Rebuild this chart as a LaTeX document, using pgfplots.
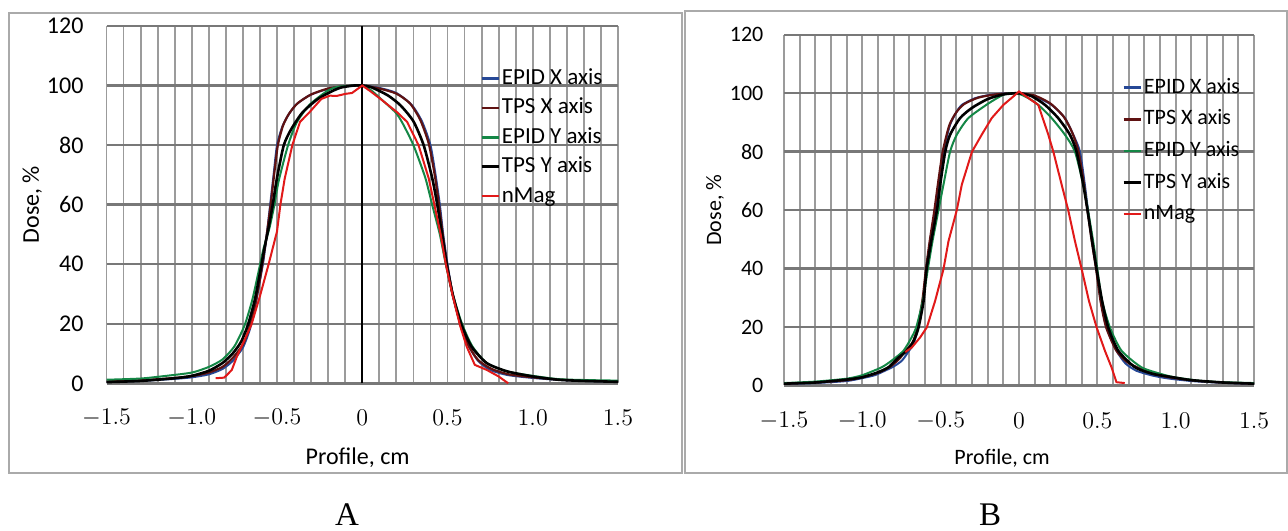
\documentclass[border=0pt]{standalone}
\usepackage{pgfplots}
\pgfplotsset{compat=1.18}
\usepackage{fontspec}
\setmainfont{Carlito}
\newfontfamily\letterfont{Liberation Serif}
\definecolor{epidx}{RGB}{38,72,150}
\definecolor{tpsx}{RGB}{95,18,18}
\definecolor{epidy}{RGB}{20,135,70}
\definecolor{nmag}{RGB}{225,25,25}
\definecolor{hgrid}{RGB}{120,120,120}
\definecolor{vgrid}{RGB}{155,155,155}
\definecolor{frame}{RGB}{170,170,170}

\pgfplotsset{
  panel/.style={
    scale only axis,
    anchor=south west,
    xmin=-1.5, xmax=1.5, ymin=0, ymax=120,
    xtick={-1.5,-1,-0.5,0,0.5,1,1.5},
    xticklabels={$-1.5$,$-1.0$,$-0.5$,$0$,$0.5$,$1.0$,$1.5$},
    minor xtick={-1.5,-1.4,...,1.55},
    ytick={0,20,40,60,80,100,120},
    yticklabels={0,20,40,60,80,100,120},
    xmajorgrids=false, xminorgrids=true, ymajorgrids=true,
    major grid style={hgrid, line width=1.2pt},
    minor grid style={vgrid, line width=0.9pt},
    axis line style={draw=none},
    tick style={draw=none}, minor tick style={draw=none},
    major tick length=0pt, minor tick length=0pt,
    legend cell align=left,
    legend image code/.code={\draw[#1, line width=1.3pt] (0pt,0pt) -- (8.5pt,0pt);},
    xlabel={Profile, cm},
    ylabel={Dose, \%},
  },
  cA/.style={epidx, line width=1pt, smooth, tension=0.4},
  cB/.style={tpsx, line width=1.1pt, smooth, tension=0.4},
  cC/.style={epidy, line width=1pt, smooth, tension=0.4},
  cD/.style={black, line width=1.3pt, smooth, tension=0.4},
  cE/.style={nmag, line width=1pt},
}

\begin{document}
\begin{tikzpicture}
\path[use as bounding box] (0pt,0pt) rectangle (644pt,265pt);
\draw[frame, line width=0.6pt] (4.5pt,28.5pt) rectangle (341pt,258.5pt);
\draw[frame, line width=0.6pt] (342.5pt,28.5pt) rectangle (643.5pt,259.5pt);
\node[anchor=base, inner sep=0pt, font=\letterfont\fontsize{16.5}{18}\selectfont] at (173.5pt,2.5pt) {A};
\node[anchor=base, inner sep=0pt, font=\letterfont\fontsize{16.5}{18}\selectfont] at (495pt,2.5pt) {B};

% ---------------- Panel A ----------------
\begin{axis}[panel,
  at={(53.25pt,73.35pt)}, width=255.75pt, height=178.65pt,
  xticklabel style={font=\fontsize{12}{14}\selectfont, anchor=center, yshift=-17pt},
  yticklabel style={font=\fontsize{12}{14}\selectfont, anchor=east, xshift=-8pt},
  xlabel style={at={(axis description cs:0.491,-0.209)}, anchor=center, font=\fontsize{12}{14}\selectfont},
  ylabel style={at={(axis description cs:-0.145,0.5)}, anchor=center, font=\fontsize{12}{14}\selectfont},
  legend style={at={(axis description cs:0.73,0.885)}, anchor=north west, draw=none, fill=none,
    inner sep=0pt, row sep=3.7pt, font=\fontsize{11.5}{13}\selectfont,
    nodes={inner xsep=1pt, inner ysep=0pt, text height=8.5pt, text depth=2.5pt}},
]
\addplot[black, line width=1pt, forget plot] coordinates {(0,0) (0,120)};
\addplot[cA] coordinates {(-1.5,0.5) (-1.3,0.8) (-1.1,1.5) (-1.0,2.0) (-0.9,3.0) (-0.82,4.8) (-0.76,7.5) (-0.70,12) (-0.66,18) (-0.63,25) (-0.605,33) (-0.58,41) (-0.56,50) (-0.54,60) (-0.52,70) (-0.50,80) (-0.47,86) (-0.44,89.5) (-0.39,93.5) (-0.31,96.7) (-0.23,98.4) (-0.15,99.4) (-0.05,100) (0,100) (0.1,99.2) (0.2,97.5) (0.29,93.5) (0.35,88) (0.40,80) (0.43,70) (0.455,60) (0.475,50) (0.50,40) (0.53,30) (0.575,20) (0.62,13) (0.68,7.5) (0.75,4.5) (0.85,2.8) (1.0,1.8) (1.2,1.0) (1.5,0.5)};
\addlegendentry{EPID X axis}
\addplot[cB] coordinates {(-1.5,0.6) (-1.3,1.0) (-1.1,1.8) (-1.0,2.4) (-0.9,3.6) (-0.82,5.5) (-0.76,8.5) (-0.70,13) (-0.66,19) (-0.63,26) (-0.60,35) (-0.575,44) (-0.555,52) (-0.535,61) (-0.515,71) (-0.495,80) (-0.465,86.5) (-0.43,90.5) (-0.38,94) (-0.3,97) (-0.2,99) (-0.1,99.8) (0,100) (0.1,99) (0.2,97.3) (0.28,94) (0.34,88.5) (0.39,80.5) (0.425,70) (0.45,60) (0.472,50) (0.497,40) (0.53,30) (0.575,20) (0.62,13) (0.68,7.8) (0.76,4.8) (0.86,3) (1.0,2) (1.2,1.1) (1.5,0.6)};
\addlegendentry{TPS X axis}
\addplot[cC] coordinates {(-1.5,1.2) (-1.3,1.6) (-1.15,2.5) (-1.0,3.6) (-0.9,5.5) (-0.82,8) (-0.75,12.4) (-0.69,19.5) (-0.645,28) (-0.61,37) (-0.58,45) (-0.545,52) (-0.515,60) (-0.49,68) (-0.435,80) (-0.385,87.5) (-0.31,93.5) (-0.21,98) (-0.15,99.5) (-0.05,100) (0,100) (0.05,98.5) (0.1,96) (0.195,91) (0.235,87.5) (0.30,80) (0.37,69) (0.41,60) (0.455,50) (0.49,40) (0.53,30) (0.585,20) (0.645,12.5) (0.73,6.8) (0.85,4) (1.0,2.5) (1.15,1.4) (1.3,1.1) (1.5,0.9)};
\addlegendentry{EPID Y axis}
\addplot[cD] coordinates {(-1.5,0.4) (-1.3,0.8) (-1.1,1.7) (-1.0,2.5) (-0.9,4.2) (-0.82,6.8) (-0.76,10) (-0.71,14) (-0.67,19.7) (-0.63,28) (-0.6,37) (-0.575,45) (-0.55,52) (-0.525,60) (-0.50,69) (-0.46,80) (-0.415,85.5) (-0.35,91) (-0.26,95.5) (-0.17,98.3) (-0.12,99.4) (-0.05,100) (0,100) (0.05,99.5) (0.15,96.7) (0.225,93.3) (0.30,88) (0.36,80) (0.41,69) (0.44,60) (0.468,50) (0.495,40) (0.53,30) (0.58,20) (0.64,12.4) (0.73,6.8) (0.85,4) (1.0,2.3) (1.15,1.2) (1.3,0.8) (1.5,0.5)};
\addlegendentry{TPS Y axis}
\addplot[cE] coordinates {(-0.86,1.7) (-0.81,1.9) (-0.79,3) (-0.765,4.5) (-0.735,9) (-0.69,14.6) (-0.65,19.7) (-0.60,29.3) (-0.55,39.8) (-0.50,51) (-0.48,60) (-0.455,68.7) (-0.41,80) (-0.365,87.8) (-0.31,91) (-0.24,95.5) (-0.19,96.6) (-0.15,96.5) (-0.1,97.2) (-0.06,97.5) (0,100) (0.05,98) (0.107,95.5) (0.205,91) (0.263,87.8) (0.33,80) (0.39,68.8) (0.423,60) (0.46,50) (0.49,40) (0.53,29.5) (0.573,19.5) (0.612,12.4) (0.66,6.2) (0.73,4.5) (0.80,2.3) (0.856,0)};
\addlegendentry{nMag}
\end{axis}

% ---------------- Panel B ----------------
\begin{axis}[panel,
  at={(392pt,72.3pt)}, width=235pt, height=175.3pt,
  xticklabel style={font=\fontsize{11.5}{13}\selectfont, anchor=center, yshift=-17.8pt},
  yticklabel style={font=\fontsize{11}{13}\selectfont, anchor=east, xshift=-6.8pt},
  xlabel style={at={(axis description cs:0.464,-0.207)}, anchor=center, font=\fontsize{11}{13}\selectfont},
  ylabel style={at={(axis description cs:-0.147,0.5)}, anchor=center, font=\fontsize{11}{13}\selectfont},
  legend style={at={(axis description cs:0.719,0.88)}, anchor=north west, draw=none, fill=none,
    inner sep=0pt, row sep=5.3pt, font=\fontsize{11}{13}\selectfont,
    nodes={inner xsep=1pt, inner ysep=0pt, text height=8pt, text depth=2.5pt}},
]
\addplot[cA] coordinates {(-1.5,0.5) (-1.3,0.8) (-1.1,1.5) (-1.0,2.5) (-0.92,3.5) (-0.853,5.1) (-0.80,6.5) (-0.747,8.5) (-0.70,12) (-0.673,14.2) (-0.645,19.9) (-0.614,29) (-0.592,39.8) (-0.567,49.4) (-0.535,60) (-0.514,68.75) (-0.482,80) (-0.44,89.2) (-0.397,93.75) (-0.365,96) (-0.28,98.3) (-0.18,99.5) (-0.08,100) (0,100) (0.10,98.9) (0.208,96) (0.293,91.5) (0.346,85.8) (0.389,80) (0.42,68.75) (0.44,60) (0.467,49.4) (0.495,39.8) (0.522,29) (0.558,19.9) (0.622,11.9) (0.68,7.5) (0.75,5) (0.85,3.4) (0.95,2.4) (1.1,1.5) (1.25,1.0) (1.5,0.5)};
\addlegendentry{EPID X axis}
\addplot[cB] coordinates {(-1.5,0.6) (-1.3,1.0) (-1.1,1.8) (-1.0,2.8) (-0.9,4.3) (-0.82,6.5) (-0.76,9.3) (-0.726,11.9) (-0.68,14.5) (-0.648,19.9) (-0.617,29) (-0.594,39.8) (-0.57,49.4) (-0.54,60) (-0.518,68.75) (-0.487,80) (-0.445,89) (-0.40,93.5) (-0.35,96.3) (-0.26,98.5) (-0.15,99.6) (-0.05,100) (0,100) (0.1,99.2) (0.2,96.5) (0.285,92) (0.34,86.5) (0.38,80) (0.415,68.75) (0.437,60) (0.464,49.4) (0.492,39.8) (0.52,29) (0.556,19.9) (0.62,12) (0.69,8) (0.77,5.8) (0.87,3.8) (0.98,2.6) (1.15,1.5) (1.3,1.0) (1.5,0.6)};
\addlegendentry{TPS X axis}
\addplot[cC] coordinates {(-1.5,0.8) (-1.3,1.3) (-1.1,2.3) (-1.0,3.5) (-0.875,6.25) (-0.80,9) (-0.737,11.9) (-0.69,16) (-0.656,19.9) (-0.614,29) (-0.582,39.8) (-0.552,49.4) (-0.514,60) (-0.482,68.75) (-0.44,80) (-0.397,85.8) (-0.323,91.5) (-0.195,96.5) (-0.1,99.5) (-0.05,100) (0,99.8) (0.06,98.3) (0.123,96) (0.208,91.5) (0.293,85.8) (0.357,80) (0.41,68.75) (0.44,60) (0.473,49.4) (0.50,39.8) (0.53,29) (0.58,19.9) (0.654,11.9) (0.78,6.25) (0.9,4) (0.99,2.8) (1.15,1.6) (1.3,1.1) (1.5,0.8)};
\addlegendentry{EPID Y axis}
\addplot[cD] coordinates {(-1.5,0.6) (-1.3,1) (-1.1,2) (-1.0,2.8) (-0.9,4.5) (-0.832,6.25) (-0.77,9.5) (-0.715,11.9) (-0.67,15.5) (-0.641,19.9) (-0.609,29) (-0.59,39.8) (-0.56,49.4) (-0.524,60) (-0.503,68.75) (-0.471,80) (-0.44,85.8) (-0.376,91.5) (-0.30,95) (-0.2,98) (-0.1,99.6) (0,100) (0.08,99) (0.166,96) (0.25,91.5) (0.325,85.8) (0.367,80) (0.41,68.75) (0.437,60) (0.467,49.4) (0.495,39.8) (0.53,29) (0.569,19.9) (0.633,11.9) (0.739,6.25) (0.85,4) (0.98,2.8) (1.1,1.8) (1.3,1.0) (1.5,0.6)};
\addlegendentry{TPS Y axis}
\addplot[cE] coordinates {(-0.726,11.4) (-0.684,13) (-0.63,16.5) (-0.588,19.9) (-0.535,29) (-0.482,39.8) (-0.45,49.4) (-0.397,60) (-0.365,68.75) (-0.30,80) (-0.238,85.8) (-0.174,91.5) (-0.10,96) (-0.036,98.9) (0,100.6) (0.123,96) (0.187,85.8) (0.219,80) (0.272,68.75) (0.314,60) (0.357,49.4) (0.40,39.8) (0.446,29) (0.495,19.9) (0.548,11.9) (0.59,6.25) (0.622,1.1) (0.675,0.8)};
\addlegendentry{nMag}
\end{axis}
\end{tikzpicture}
\end{document}
